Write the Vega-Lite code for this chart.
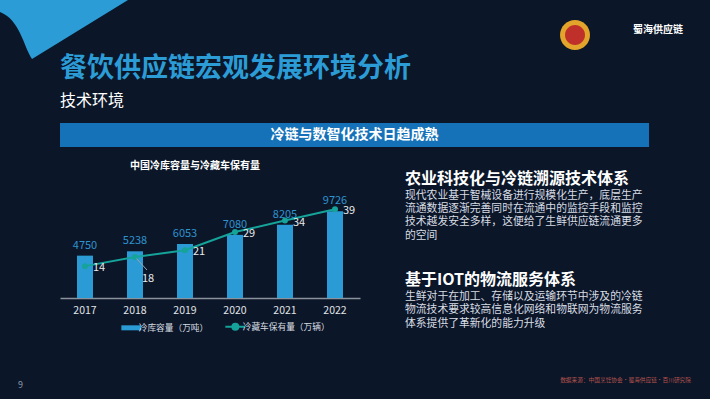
{
  "$schema": "https://vega.github.io/schema/vega-lite/v6.json",
  "background": "#0b1628",
  "padding": {"left": 0, "top": 0, "right": 22, "bottom": 12},
  "bounds": "flush",
  "spacing": 0,
  "resolve": {"scale": {"color": "independent"}, "legend": {"color": "independent"}},
  "config": {
    "view": {"stroke": null},
    "font": "Noto Sans CJK SC",
    "title": {"font": "Noto Sans CJK SC", "subtitleFont": "Noto Sans CJK SC"},
    "axis": {"labelFont": "Noto Sans CJK SC"},
    "legend": {"labelFont": "Noto Sans CJK SC"}
  },
  "hconcat": [
    {
      "width": 60,
      "height": 378,
      "data": {"values": [{"k": 1}]},
      "title": {"text": "9", "orient": "bottom", "anchor": "start", "fontSize": 9, "fontWeight": "normal", "color": "#8d99aa", "dx": 18, "offset": 3},
      "layer": [
        {"mark": {"type": "point", "shape": "M-0.15,-0.945L0.49,-0.945L0.01,-0.65C-0.035,-0.72,-0.05,-0.845,-0.15,-0.885Z", "size": 160000, "filled": true, "color": "#2b9cd6", "strokeWidth": 0, "opacity": 1}},
        {"mark": {"type": "point", "shape": "M2.8,-0.77A0.075,0.075,0,1,1,2.65,-0.77A0.075,0.075,0,1,1,2.8,-0.77Z", "size": 160000, "filled": true, "color": "#e2a42b", "strokeWidth": 0, "opacity": 1}},
        {"mark": {"type": "point", "shape": "M2.775,-0.77A0.05,0.05,0,1,1,2.675,-0.77A0.05,0.05,0,1,1,2.775,-0.77Z", "size": 160000, "filled": true, "color": "#c0302a", "strokeWidth": 0, "opacity": 1}}
      ]
    },
    {
      "spacing": 14,
      "resolve": {"scale": {"color": "independent"}, "legend": {"color": "independent"}},
      "title": {"text": "数据来源：中国烹饪协会·蜀海供应链·百川研究院", "orient": "bottom", "anchor": "end", "fontSize": 5.7, "fontWeight": "normal", "color": "#b4534d", "offset": 43, "dx": 8},
      "vconcat": [
        {
          "spacing": 20,
          "vconcat": [
            {
              "width": 623,
              "height": 24,
              "data": {"values": []},
              "mark": "point",
              "title": {"text": "蜀海供应链", "orient": "bottom", "anchor": "end", "fontSize": 10, "fontWeight": "bold", "color": "#ffffff", "offset": 1}
            },
            {
              "width": 589,
              "height": 24,
              "view": {"fill": "#1672b8"},
              "data": {"values": [{"t": "冷链与数智化技术日趋成熟"}]},
              "mark": {"type": "text", "fontSize": 14, "fontWeight": "bold", "color": "#ffffff", "baseline": "middle"},
              "encoding": {"text": {"field": "t"}},
              "title": {"text": "餐饮供应链宏观发展环境分析", "subtitle": "技术环境", "anchor": "start", "fontSize": 27, "fontWeight": "bold", "color": "#2b9cd6", "subtitleFontSize": 16, "subtitleColor": "#ffffff", "subtitlePadding": 10, "offset": 13}
            }
          ]
        },
        {
          "spacing": 45,
          "resolve": {"scale": {"color": "independent"}, "legend": {"color": "independent"}},
          "hconcat": [
            {
              "width": 300,
              "height": 107,
              "data": {"values": [
                {"year": "2017", "capacity": 4750, "cars": 14},
                {"year": "2018", "capacity": 5238, "cars": 18},
                {"year": "2019", "capacity": 6053, "cars": 21},
                {"year": "2020", "capacity": 7080, "cars": 29},
                {"year": "2021", "capacity": 8205, "cars": 34},
                {"year": "2022", "capacity": 9726, "cars": 39}
              ]},
              "title": {"text": "中国冷库容量与冷藏车保有量", "fontSize": 10, "fontWeight": "bold", "color": "#ffffff", "anchor": "middle", "dx": -15, "offset": 20},
              "encoding": {
                "x": {"field": "year", "type": "ordinal", "scale": {"paddingInner": 0.68, "paddingOuter": 0.34},
                  "axis": {"title": null, "labelAngle": 0, "ticks": false, "domainColor": "#8a929c", "domainWidth": 1.5, "labelColor": "#e0e4e8", "labelFontSize": 10.5, "labelPadding": 7}}
              },
              "layer": [
                {
                  "mark": {"type": "bar"},
                  "encoding": {
                    "y": {"field": "capacity", "type": "quantitative", "scale": {"domain": [0, 12000]}, "axis": null},
                    "color": {"datum": "冷库容量（万吨）", "type": "nominal",
                      "scale": {"domain": ["冷库容量（万吨）", "冷藏车保有量（万辆）"], "range": ["#2b9bd5", "#15a39a"]},
                      "legend": {"orient": "none", "legendX": 67, "legendY": 131, "direction": "horizontal", "title": null,
                        "labelColor": "#d8dde3", "labelFontSize": 8.7, "symbolSize": 400, "columnPadding": 12, "labelOffset": 3,
                        "encode": {"symbols": {"update": {
                          "shape": {"signal": "datum.value === '冷库容量（万吨）' ? 'M-1,-0.25L1,-0.25L1,0.25L-1,0.25Z' : 'M-1,0L1,0M0.3,0A0.3,0.3,0,1,1,-0.3,0A0.3,0.3,0,1,1,0.3,0Z'"},
                          "fill": {"signal": "datum.value === '冷库容量（万吨）' ? '#2b9bd5' : '#15a39a'"},
                          "stroke": {"signal": "datum.value === '冷库容量（万吨）' ? '#2b9bd5' : '#15a39a'"},
                          "strokeWidth": {"signal": "datum.value === '冷库容量（万吨）' ? 0 : 2"},
                          "opacity": {"value": 1},
                          "fillOpacity": {"value": 1}
                        }}}
                      }
                    }
                  }
                },
                {
                  "mark": {"type": "text", "baseline": "bottom", "dy": -5, "fontSize": 11, "color": "#2f93cf"},
                  "encoding": {
                    "y": {"field": "capacity", "type": "quantitative", "scale": {"domain": [0, 12000]}, "axis": null},
                    "text": {"field": "capacity"}
                  }
                },
                {
                  "mark": {"type": "line", "strokeWidth": 2, "point": {"filled": true, "size": 36, "opacity": 1}},
                  "encoding": {
                    "y": {"field": "cars", "type": "quantitative", "scale": {"domain": [0, 47]}, "axis": null},
                    "color": {"datum": "冷藏车保有量（万辆）", "type": "nominal"}
                  }
                },
                {
                  "transform": [{"filter": "datum.year !== '2018'"}],
                  "mark": {"type": "text", "align": "left", "baseline": "middle", "dx": 8, "dy": 2, "fontSize": 11, "color": "#e8eaec"},
                  "encoding": {
                    "y": {"field": "cars", "type": "quantitative", "scale": {"domain": [0, 47]}, "axis": null},
                    "text": {"field": "cars"}
                  }
                },
                {
                  "transform": [{"filter": "datum.year === '2018'"}],
                  "mark": {"type": "rule", "color": "#9aa3ad", "strokeWidth": 1, "xOffset": 1.5, "yOffset": 1.5, "x2Offset": 12, "y2Offset": 13},
                  "encoding": {
                    "y": {"field": "cars", "type": "quantitative", "scale": {"domain": [0, 47]}, "axis": null},
                    "x2": {"field": "year"},
                    "y2": {"field": "cars"}
                  }
                },
                {
                  "transform": [{"filter": "datum.year === '2018'"}],
                  "mark": {"type": "text", "align": "left", "baseline": "middle", "dx": 7, "dy": 22, "fontSize": 11, "color": "#e8eaec"},
                  "encoding": {
                    "y": {"field": "cars", "type": "quantitative", "scale": {"domain": [0, 47]}, "axis": null},
                    "text": {"field": "cars"}
                  }
                }
              ],
              "resolve": {"scale": {"y": "independent"}}
            },
            {
              "spacing": 27,
              "title": {"text": "农业科技化与冷链溯源技术体系", "anchor": "start", "fontSize": 16, "fontWeight": "bold", "color": "#ffffff", "offset": 3},
              "vconcat": [
                {
                  "width": 245,
                  "height": 53.4,
                  "data": {"values": [
                    {"line": 1, "text": "现代农业基于智械设备进行规模化生产，底层生产"},
                    {"line": 2, "text": "流通数据逐渐完善同时在流通中的监控手段和监控"},
                    {"line": 3, "text": "技术越发安全多样，这便给了生鲜供应链流通更多"},
                    {"line": 4, "text": "的空间"}
                  ]},
                  "mark": {"type": "text", "align": "left", "baseline": "middle", "dy": -2, "fontSize": 10.8, "color": "#d8dde4"},
                  "encoding": {
                    "x": {"datum": 0, "type": "quantitative", "scale": {"domain": [0, 1]}, "axis": null},
                    "y": {"field": "line", "type": "ordinal", "scale": {"type": "band", "paddingInner": 0, "paddingOuter": 0}, "axis": null},
                    "text": {"field": "text"}
                  }
                },
                {
                  "width": 245,
                  "height": 40.5,
                  "title": {"text": "基于IOT的物流服务体系", "anchor": "start", "fontSize": 16, "fontWeight": "bold", "color": "#ffffff", "offset": 2.5},
                  "data": {"values": [
                    {"line": 1, "text": "生鲜对于在加工、存储以及运输环节中涉及的冷链"},
                    {"line": 2, "text": "物流技术要求较高信息化网络和物联网为物流服务"},
                    {"line": 3, "text": "体系提供了革新化的能力升级"}
                  ]},
                  "mark": {"type": "text", "align": "left", "baseline": "middle", "dy": -2, "fontSize": 10.8, "color": "#d8dde4"},
                  "encoding": {
                    "x": {"datum": 0, "type": "quantitative", "scale": {"domain": [0, 1]}, "axis": null},
                    "y": {"field": "line", "type": "ordinal", "scale": {"type": "band", "paddingInner": 0, "paddingOuter": 0}, "axis": null},
                    "text": {"field": "text"}
                  }
                }
              ]
            }
          ]
        }
      ]
    }
  ]
}
